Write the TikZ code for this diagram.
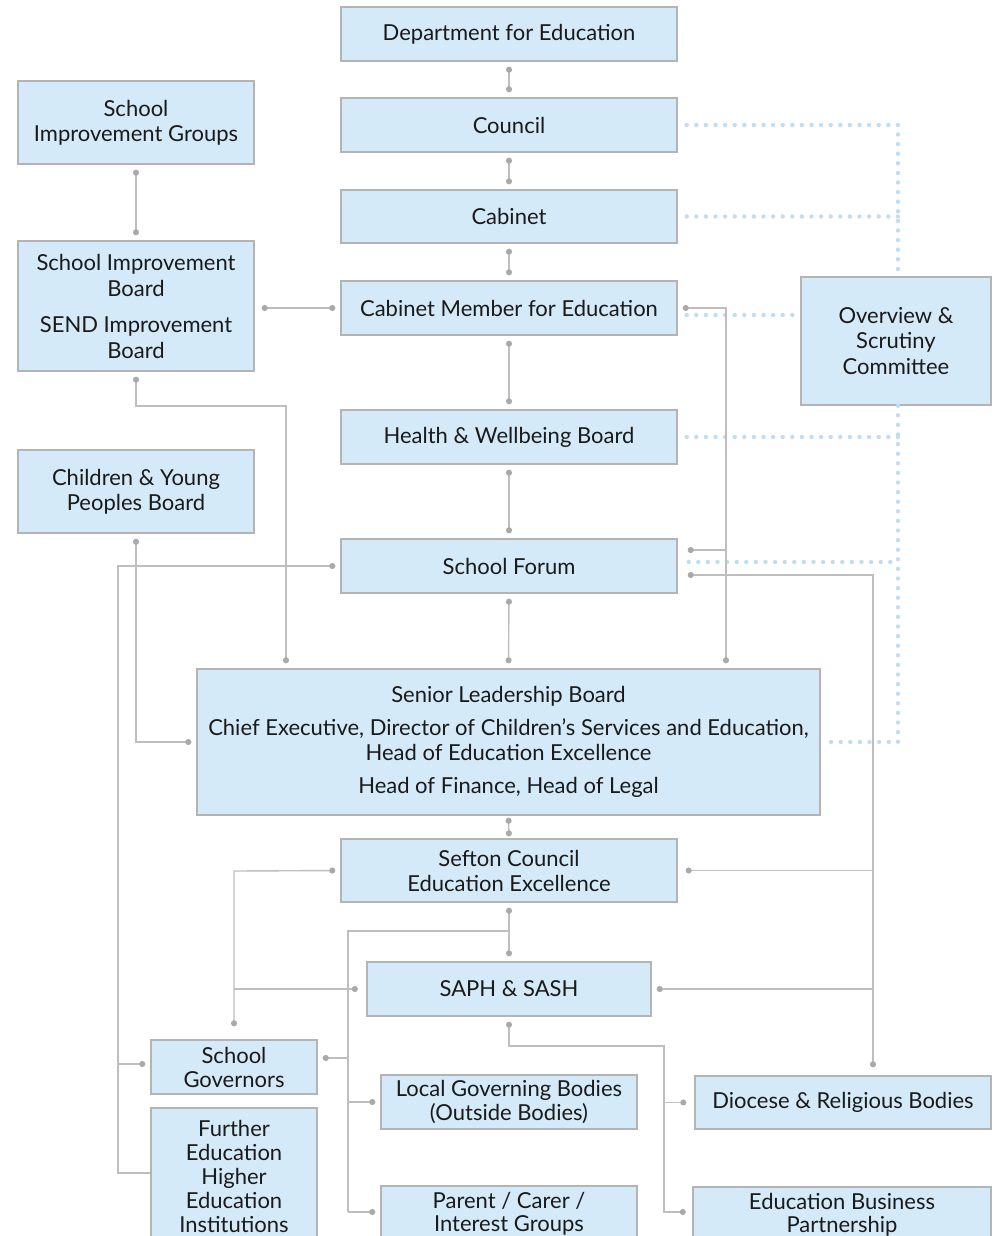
\documentclass[tikz,border=0pt]{standalone}
\usepackage{fontspec}
\setmainfont{Lato}
\usetikzlibrary{arrows.meta}
\definecolor{boxfill}{HTML}{D4EAF9}
\definecolor{boxline}{HTML}{B4B4B4}
\definecolor{linegray}{HTML}{BEBEBE}
\definecolor{dotgray}{HTML}{A9A9A9}
\definecolor{dotblue}{HTML}{BFDEF3}
\definecolor{txt}{HTML}{1A1A1A}
\tikzset{
  box/.style={draw=boxline, line width=1.4pt, fill=boxfill, text=txt, align=center,
    inner sep=0pt, font=\fontsize{22}{25}\selectfont},
  conn/.style={draw=linegray, line width=1.4pt},
  tipdot/.style={Circle[length=6pt,width=6pt,color=dotgray]},
  both/.style={conn, {Circle[length=6pt,width=6pt,color=dotgray]}-{Circle[length=6pt,width=6pt,color=dotgray]}, shorten <=5pt, shorten >=5pt},
  sdot/.style={conn, {Circle[length=6pt,width=6pt,color=dotgray]}-, shorten <=5pt},
  edot/.style={conn, -{Circle[length=6pt,width=6pt,color=dotgray]}, shorten >=5pt},
  dotl/.style={draw=dotblue, line width=4.4pt, line cap=round, dash pattern=on 0pt off 9.6pt}
}
\begin{document}
\begin{tikzpicture}[x=1pt,y=-1pt]
\useasboundingbox (0,0) rectangle (996,1236);
\clip (0,0) rectangle (996,1236);
\fill[white] (0,0) rectangle (996,1236);
% boxes
\node[box, minimum width=336pt, minimum height=54pt] (dfe) at (509,34) {Department for Education};
\node[box, minimum width=336pt, minimum height=54pt] (council) at (509,125) {Council};
\node[box, minimum width=336pt, minimum height=53pt] (cabinet) at (509,216.5) {Cabinet};
\node[box, minimum width=336pt, minimum height=54pt] (cmfe) at (509,308) {Cabinet Member for Education};
\node[box, minimum width=336pt, minimum height=54pt] (hwb) at (509,437) {Health \& Wellbeing Board};
\node[box, minimum width=336pt, minimum height=54pt] (sf) at (509,566) {School Forum};
\node[box, minimum width=623pt, minimum height=146pt] (slb) at (508.5,742) {Senior Leadership Board\\[8pt]Chief Executive, Director of Children’s Services and Education,\\Head of Education Excellence\\[8pt]Head of Finance, Head of Legal};
\node[box, minimum width=336pt, minimum height=63pt] (sefton) at (509,870.5) {Sefton Council\\Education Excellence};
\node[box, minimum width=284pt, minimum height=54pt] (saph) at (509,989) {SAPH \& SASH};
\node[box, minimum width=236pt, minimum height=83pt] (sig) at (136,122.5) {School\\Improvement Groups};
\node[box, minimum width=236pt, minimum height=130pt, font=\fontsize{22}{26}\selectfont] (sib) at (136,306) {School Improvement\\Board\\[10pt]SEND Improvement\\Board};
\node[box, minimum width=236pt, minimum height=83pt] (cypb) at (136,491.5) {Children \& Young\\Peoples Board};
\node[box, minimum width=190pt, minimum height=128pt, font=\fontsize{22}{25.5}\selectfont] (os) at (896,341) {Overview \&\\Scrutiny\\Committee};
\node[box, minimum width=166pt, minimum height=54pt, font=\fontsize{22}{24}\selectfont] (gov) at (234,1067) {School\\Governors};
\node[box, minimum width=166pt, minimum height=136pt, font=\fontsize{22}{24}\selectfont] (fe) at (234,1176) {Further\\Education\\Higher\\Education\\Institutions};
\node[box, minimum width=256pt, minimum height=54pt, font=\fontsize{22}{24}\selectfont] (lgb) at (509,1102) {Local Governing Bodies\\(Outside Bodies)};
\node[box, minimum width=256pt, minimum height=56pt, font=\fontsize{22}{23}\selectfont] (pcig) at (509,1214) {Parent / Carer /\\Interest Groups};
\node[box, minimum width=296pt, minimum height=53pt] (dio) at (843,1102.5) {Diocese \& Religious Bodies};
\node[box, minimum width=298pt, minimum height=56pt, font=\fontsize{22}{23}\selectfont] (ebp) at (842,1215) {Education Business\\Partnership};
% coordinates
\coordinate (dcol) at (898,125);
\coordinate (k1) at (286,406);
\coordinate (busFar) at (118,566);
\coordinate (busR1) at (726,308);
\coordinate (busR2) at (873,575);
\coordinate (busL2) at (234,871);
\coordinate (j1) at (509,931);
\coordinate (busL) at (348,931);
\coordinate (k2) at (664,1046);
% dotted scrutiny lines
\draw[dotl] ([xshift=9pt]council.east) -- (dcol) -- (dcol |- os.north);
\draw[dotl] ([xshift=9pt]cabinet.east) -- (dcol |- cabinet.east);
\path ([xshift=9pt,yshift=-7pt]cmfe.east) coordinate (c1);
\draw[dotl] (c1) -- ([xshift=-3pt]c1 -| os.west);
\draw[dotl] (dcol |- os.south) -- (dcol |- slb.east) -- ([xshift=9pt]slb.east);
\draw[dotl] ([xshift=9pt]hwb.east) -- (dcol |- hwb.east);
\path ([xshift=11pt,yshift=4pt]sf.east) coordinate (c2);
\draw[dotl] (c2) -- (dcol |- c2);
% main spine
\draw[both] (dfe.south) -- (council.north);
\draw[both] (council.south) -- (cabinet.north);
\draw[both] (cabinet.south) -- (cmfe.north);
\draw[both] (cmfe.south) -- (hwb.north);
\draw[both] (hwb.south) -- (sf.north);
\draw[both] (sf.south) -- (slb.north);
\draw[both, shorten <=2pt, shorten >=2pt] (slb.south) -- (sefton.north);
\draw[both] (sefton.south) -- (saph.north);
% left side
\draw[both] (sig.south) -- (sig.south |- sib.north);
\draw[both, shorten <=7pt] (sib.east |- cmfe.west) -- (cmfe.west);
\draw[both] (sib.south) |- (k1) -- (k1 |- slb.north);
\draw[both] (cypb.south) |- (slb.west);
\draw[sdot] (sf.west) -- (busFar) |- ([yshift=3pt]fe.west);
\draw[edot] (busFar |- 0,1064) -- ([yshift=3pt]gov.west);
% right side
\draw[both] (cmfe.east) -- (busR1) -- (busR1 |- slb.north);
\draw[sdot] ([yshift=16pt,xshift=5pt]sf.east) -- (busR1 |- 0,550);
\draw[both, shorten <=10pt, shorten >=8pt] ([yshift=-9pt]sf.east) -- (busR2) -- (busR2 |- dio.north);
\draw[sdot, shorten <=8pt] (sefton.east) -- (busR2 |- sefton.east);
\draw[sdot] (saph.east) -- (busR2 |- saph.east);
% Sefton left
\draw[both, shorten >=13pt] (sefton.west) -- (busL2) -- (busL2 |- gov.north);
\draw[edot, shorten >=8.5pt] (busL2 |- saph.west) -- (saph.west);
% Sefton bottom branch
\draw[conn] (j1) -- (busL) -- (busL |- 0,1212);
\draw[edot] (busL |- 0,1212) -- (pcig.west |- 0,1212);
\draw[edot] (busL |- lgb.west) -- (lgb.west);
\draw[sdot] ([yshift=9pt]gov.east) -- (busL |- 0,1058);
% SAPH bottom
\draw[both, shorten >=6.5pt] (saph.south) |- (k2) |- (ebp.west |- 0,1212);
\draw[edot, shorten >=8pt] (k2 |- dio.west) -- (dio.west);
\end{tikzpicture}
\end{document}
